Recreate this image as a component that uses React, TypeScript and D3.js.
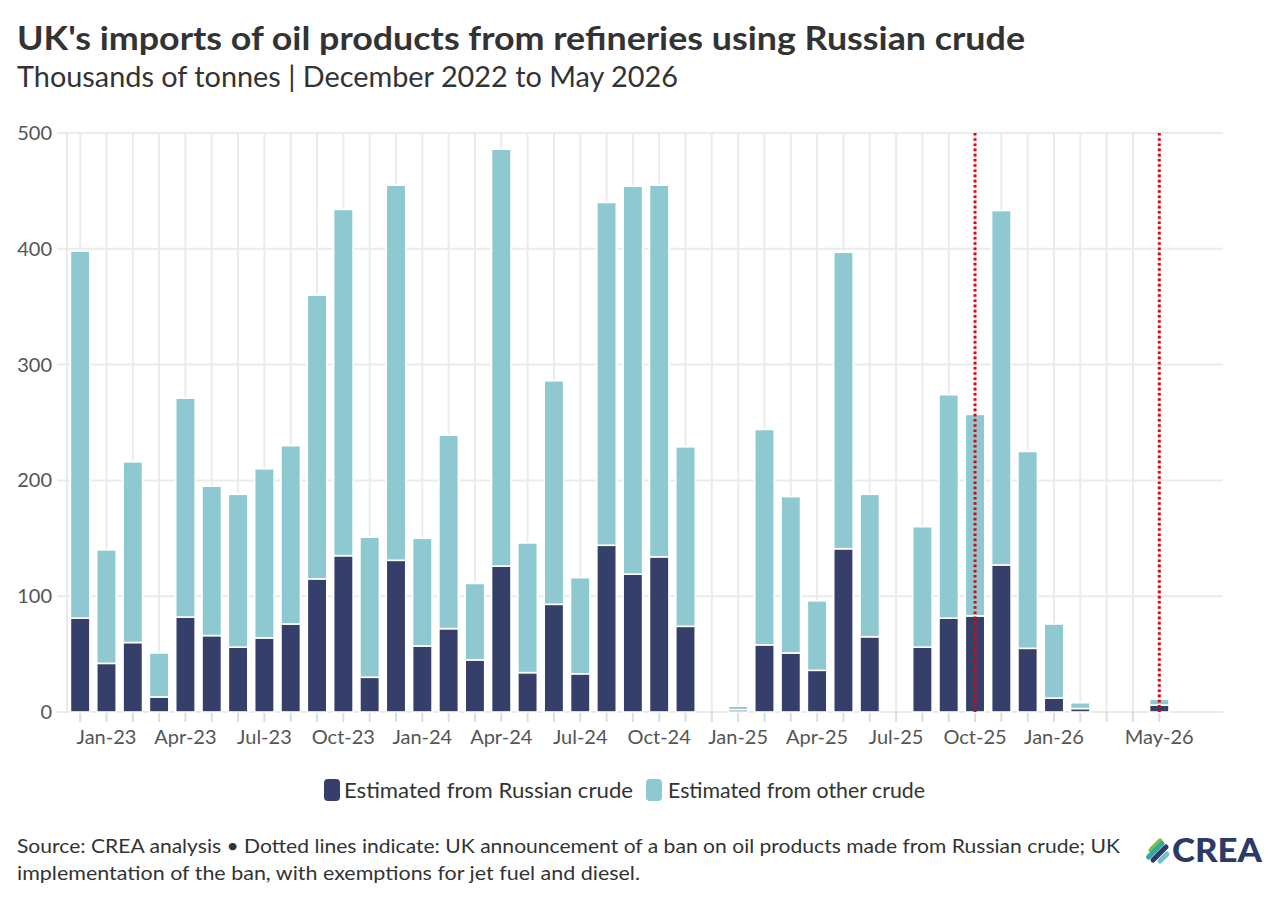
import * as d3 from "d3";

// ─── Data (thousands of tonnes) ──────────────────────────────────────────────
const months = [
  "Dec-22", "Jan-23", "Feb-23", "Mar-23", "Apr-23", "May-23", "Jun-23", "Jul-23",
  "Aug-23", "Sep-23", "Oct-23", "Nov-23", "Dec-23", "Jan-24", "Feb-24", "Mar-24",
  "Apr-24", "May-24", "Jun-24", "Jul-24", "Aug-24", "Sep-24", "Oct-24", "Nov-24",
  "Dec-24", "Jan-25", "Feb-25", "Mar-25", "Apr-25", "May-25", "Jun-25", "Jul-25",
  "Aug-25", "Sep-25", "Oct-25", "Nov-25", "Dec-25", "Jan-26", "Feb-26", "Mar-26",
  "Apr-26", "May-26",
];

const russianCrude = [
  81, 42, 60, 13, 82, 66, 56, 64, 76, 115, 135, 30, 131, 57, 72, 45,
  126, 34, 93, 33, 144, 119, 134, 74, 0, 2, 58, 51, 36, 141, 65, 0,
  56, 81, 83, 127, 55, 12, 3, 0, 0, 6,
];

const otherCrude = [
  317, 98, 156, 38, 189, 129, 132, 146, 154, 245, 299, 121, 324, 93, 167, 66,
  360, 112, 193, 83, 296, 335, 321, 155, 0, 3, 186, 135, 60, 256, 123, 0,
  104, 193, 174, 306, 170, 64, 5, 0, 0, 5,
];

const tickLabels = [
  "Jan-23", "Apr-23", "Jul-23", "Oct-23", "Jan-24", "Apr-24", "Jul-24",
  "Oct-24", "Jan-25", "Apr-25", "Jul-25", "Oct-25", "Jan-26", "May-26",
];

const yTicks = [0, 100, 200, 300, 400, 500];

// announcement of the ban, implementation of the ban
const banMonths = ["Oct-25", "May-26"];

const seriesNames = ["Estimated from Russian crude", "Estimated from other crude"];

// ─── Look ────────────────────────────────────────────────────────────────────
const FONT = "'Source Sans Pro', Lato, 'Noto Sans', sans-serif";
const DARK = "#353f6a";
const LIGHT = "#8ec9d1";
const GRID = "#ebebeb";
const TEXT = "#333333";
const NAVY = "#2b3a67";

const width = 1280;
const height = 901;
const plot = { left: 57, right: 1223, top: 133, bottom: 712 };

export default function App() {
  const x = d3
    .scaleBand<string>()
    .domain(months)
    .range([67, 67 + months.length * 26.32])
    .paddingInner(0.26)
    .paddingOuter(0.13);

  const y = d3.scaleLinear().domain([0, 500]).range([plot.bottom, plot.top]);

  const rows = months.map((m, i) => ({
    month: m,
    russian: russianCrude[i],
    other: otherCrude[i],
  }));

  const stacked = d3
    .stack<{ month: string; russian: number; other: number }>()
    .keys(["russian", "other"])(rows);

  const colors = [DARK, LIGHT];
  const cx = (m: string) => (x(m) ?? 0) + x.bandwidth() / 2;

  return (
    <div style={{ position: "absolute", left: 0, top: 0 }}>
      <svg width={width} height={height} viewBox={`0 0 ${width} ${height}`} style={{ display: "block", background: "#fff" }}>
        {/* Title block */}
        <text x={17} y={50} fontFamily={FONT} fontWeight={700} fontSize={33} fill={TEXT}
          textLength={1008} lengthAdjust="spacingAndGlyphs">
          UK's imports of oil products from refineries using Russian crude
        </text>
        <text x={17} y={87} fontFamily={FONT} fontWeight={400} fontSize={28} fill={TEXT}
          textLength={661} lengthAdjust="spacingAndGlyphs">
          Thousands of tonnes | December 2022 to May 2026
        </text>

        {/* Grid */}
        <g>
          {yTicks.map((t) => (
            <line key={`h${t}`} x1={plot.left} x2={plot.right} y1={y(t)} y2={y(t)} stroke={GRID} strokeWidth={2} />
          ))}
          <line x1={67} x2={67} y1={plot.top} y2={plot.bottom} stroke={GRID} strokeWidth={2} />
          {months.map((m) => (
            <line key={`v${m}`} x1={cx(m)} x2={cx(m)} y1={plot.top} y2={plot.bottom} stroke={GRID} strokeWidth={2} />
          ))}
          {months.map((m) => (
            <line key={`t${m}`} x1={cx(m)} x2={cx(m)} y1={plot.bottom} y2={plot.bottom + 10} stroke="#dddddd" strokeWidth={2} />
          ))}
        </g>

        {/* Y axis labels */}
        {yTicks.map((t) => (
          <text key={`yl${t}`} x={52} y={y(t)} dy="0.35em" textAnchor="end" fontFamily={FONT} fontSize={20} fill="#555">
            {t}
          </text>
        ))}

        {/* X axis labels */}
        {tickLabels.map((m) => (
          <text key={`xl${m}`} x={cx(m)} y={744} textAnchor="middle" fontFamily={FONT} fontSize={20} fill="#555">
            {m}
          </text>
        ))}

        {/* Stacked bars */}
        {stacked.map((layer, li) => (
          <g key={layer.key} fill={colors[li]} stroke="#fff" strokeWidth={1.6}>
            {layer.map((d) =>
              d[1] - d[0] > 0 ? (
                <rect
                  key={d.data.month}
                  x={x(d.data.month)}
                  y={y(d[1])}
                  width={x.bandwidth()}
                  height={y(d[0]) - y(d[1])}
                />
              ) : null
            )}
          </g>
        ))}

        {/* Ban markers */}
        {banMonths.map((m) => (
          <line
            key={`ban${m}`}
            x1={cx(m)}
            x2={cx(m)}
            y1={plot.top}
            y2={plot.bottom}
            stroke="#e3000f"
            strokeWidth={3}
            strokeDasharray="2.6 2.6"
          />
        ))}

        {/* Legend */}
        <g fontFamily={FONT} fontSize={21} fill={TEXT}>
          <rect x={324} y={779} width={16} height={22} rx={4} fill={DARK} />
          <text x={344} y={798} textLength={289} lengthAdjust="spacingAndGlyphs">{seriesNames[0]}</text>
          <rect x={646} y={779} width={16} height={22} rx={4} fill={LIGHT} />
          <text x={668} y={798} textLength={257} lengthAdjust="spacingAndGlyphs">{seriesNames[1]}</text>
        </g>

        {/* Footer */}
        <g fontFamily={FONT} fontSize={20} fill={TEXT}>
          <text x={17} y={853} textLength={1103} lengthAdjust="spacingAndGlyphs">
            Source: CREA analysis • Dotted lines indicate: UK announcement of a ban on oil products made from Russian crude; UK
          </text>
          <text x={17} y={880} textLength={623} lengthAdjust="spacingAndGlyphs">
            implementation of the ban, with exemptions for jet fuel and diesel.
          </text>
        </g>

        {/* CREA logo */}
        <g transform="translate(1146,839)">
          <line x1={5} y1={11} x2={14} y2={2} stroke="#7bc043" strokeWidth={5} strokeLinecap="round" />
          <line x1={2.5} y1={18} x2={16} y2={4.5} stroke="#2fa9a1" strokeWidth={5} strokeLinecap="round" />
          <line x1={7} y1={21} x2={20} y2={8} stroke={NAVY} strokeWidth={5} strokeLinecap="round" />
          <line x1={14} y1={22} x2={21} y2={15} stroke="#6fc2d0" strokeWidth={5} strokeLinecap="round" />
        </g>
        <text x={1172} y={862} fontFamily="Lato, sans-serif" fontWeight={900} fontSize={33} fill={NAVY}
          textLength={90} lengthAdjust="spacingAndGlyphs">
          CREA
        </text>
      </svg>
    </div>
  );
}
